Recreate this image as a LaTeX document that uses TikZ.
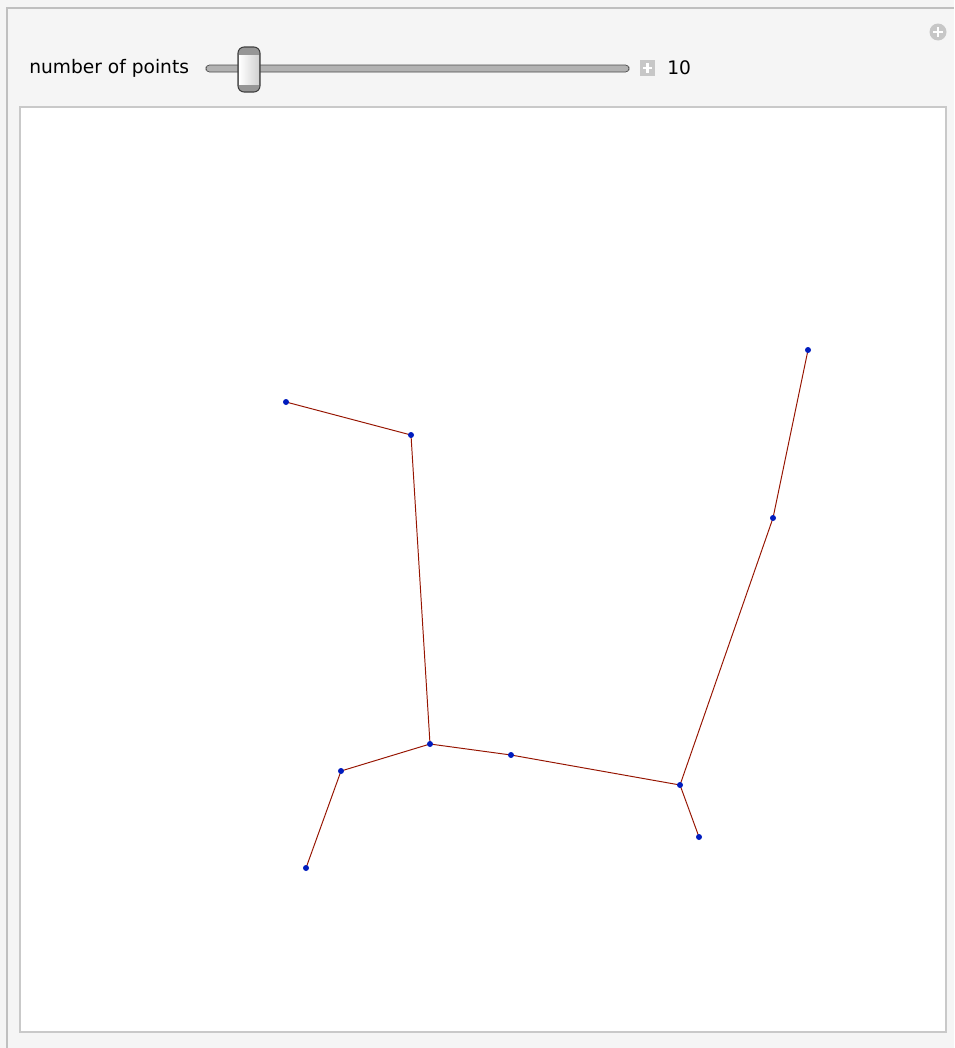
\documentclass[tikz,border=0pt]{standalone}
\usepackage{fontspec}
\setmainfont{DejaVu Sans}
\usetikzlibrary{positioning,backgrounds}
\definecolor{panel}{RGB}{245,245,245}
\definecolor{frame}{RGB}{192,192,192}
\definecolor{track}{RGB}{178,178,178}
\definecolor{knob}{RGB}{150,150,150}
\definecolor{vtx}{RGB}{0,28,190}
\definecolor{wire}{RGB}{150,20,0}
\tikzset{
  vertex/.style={circle, fill=vtx, inner sep=0pt, minimum size=0.12cm},
  link/.style={wire, line width=0.55pt},
  ctrl/.style={font=\fontsize{10.6}{12}\selectfont, inner sep=0pt, anchor=west},
  iconbg/.style={fill=black!22, draw=none},
  iconplus/.style={white, line width=1.4pt},
}

\begin{document}
\begin{tikzpicture}[x=0.02cm, y=-0.02cm]
  \useasboundingbox (0,0) rectangle (954,1048);
  \begin{pgfonlayer}{background}
    % panel and plot area
    \fill[panel] (0,0) rectangle (954,1048);
    \draw[frame, line width=1.2pt] (7,1048) -- (7,8) -- (954,8);
    \draw[frame!85, fill=white, line width=1.1pt] (20,107) rectangle (946,1032);
  \end{pgfonlayer}

  % controls
  \node[ctrl] (cap) at (29,68) {number of points};
  \draw[black!70, fill=track, rounded corners=2pt] (206,65) rectangle (629,72);
  \fill[knob, rounded corners=3.5pt] (238,47) rectangle (260,92);
  \shade[left color=white, right color=black!18] (239,55) rectangle (259,84);
  \draw[black!75, rounded corners=3.5pt, line width=0.6pt] (238,47) rectangle (260,92);
  \fill[iconbg] (640,60) rectangle (655,76);
  \draw[iconplus] (647.5,63) -- (647.5,73) (643,68) -- (652,68);
  \node[ctrl] (num) at (667,68) {10};
  \fill[iconbg] (938,32) circle (8.5);
  \draw[iconplus] (938,27) -- (938,37) (933,32) -- (943,32);

  % points
  \node[vertex] (p1) at (286,402) {};
  \node[vertex] (p2) at (411,435) {};
  \node[vertex] (p3) at (430,744) {};
  \node[vertex] (p4) at (341,771) {};
  \node[vertex] (p5) at (306,868) {};
  \node[vertex] (p6) at (511,755) {};
  \node[vertex] (p7) at (680,785) {};
  \node[vertex] (p8) at (699,837) {};
  \node[vertex] (p9) at (773,518) {};
  \node[vertex] (p10) at (808,350) {};

  % tree edges, under the points
  \begin{pgfonlayer}{background}
    \draw[link] (p1.center) -- (p2.center) -- (p3.center) -- (p4.center) -- (p5.center);
    \draw[link] (p3.center) -- (p6.center) -- (p7.center) -- (p8.center);
    \draw[link] (p7.center) -- (p9.center) -- (p10.center);
  \end{pgfonlayer}
\end{tikzpicture}
\end{document}
